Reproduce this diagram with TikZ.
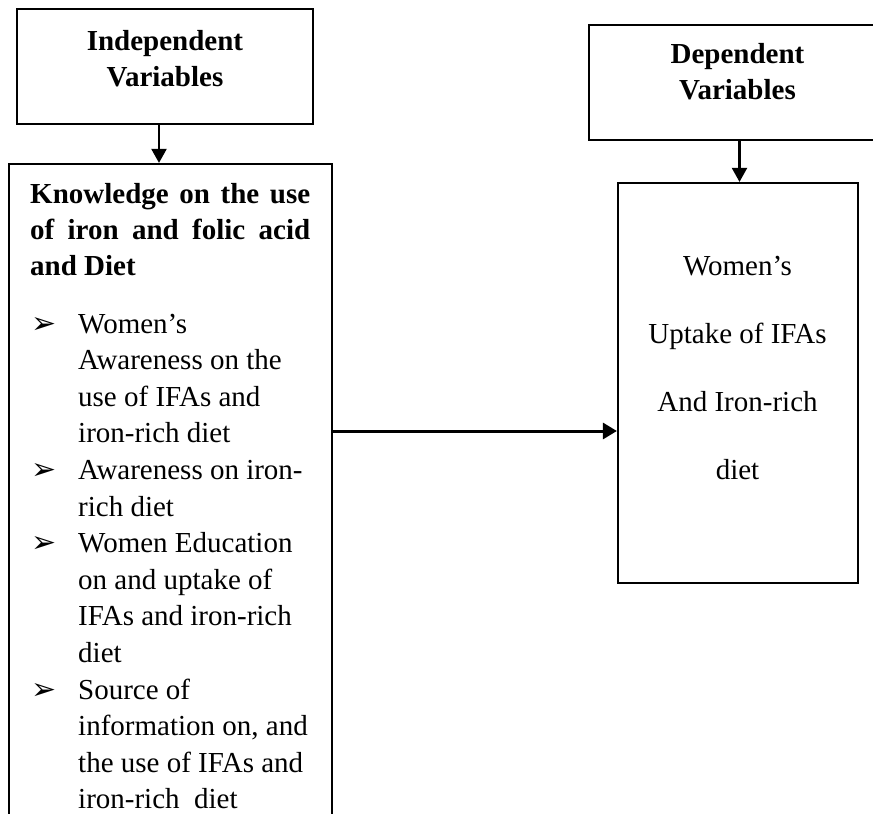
\documentclass[tikz,border=0pt]{standalone}
\usepackage{fontspec}
\setmainfont{Liberation Serif}
\newfontfamily\symfont{DejaVu Sans}
\usetikzlibrary{arrows.meta}
\begin{document}
\begin{tikzpicture}[x=1pt,y=-1pt,
  box/.style={draw, line width=2.2pt, inner sep=0pt},
  arr/.style={line width=2.2pt, -{Triangle[length=14pt,width=15pt]}},
  harr/.style={line width=3pt, -{Triangle[length=14pt,width=16pt]}},
  txt/.style={inner sep=0pt, font=\fontsize{29}{35}\selectfont},
  btxt/.style={inner sep=0pt, font=\fontsize{29}{35}\selectfont\bfseries},
  bul/.style={inner sep=0pt, font=\symfont\fontsize{30}{30}\selectfont},
]
\useasboundingbox (0,0) rectangle (873,814);
% boxes
\node[box, minimum width=296pt, minimum height=115pt] (indep) at (165,66.5) {};
\node[box, minimum width=323pt, minimum height=666pt] (know) at (170.5,497) {};
\node[box, minimum width=301pt, minimum height=115pt] (dep) at (739.5,82.5) {};
\node[box, minimum width=240pt, minimum height=400pt] (out) at (738,383) {};
% titles
\node[btxt, anchor=base] (indept1) at (165,50) {Independent};
\node[btxt, anchor=base] (indept2) at (165,86) {Variables};
\node[btxt, anchor=base] (dept1) at (737.5,63) {Dependent};
\node[btxt, anchor=base] (dept2) at (737.5,99) {Variables};
% heading
\node[btxt, anchor=base west] (head1) at (30,203) {\makebox[280pt][s]{Knowledge on the use}};
\node[btxt, anchor=base west] (head2) at (30,239) {\makebox[280pt][s]{of iron and folic acid}};
\node[btxt, anchor=base west] (head3) at (30,275) {and Diet};
% bullets
\foreach \yy [count=\i] in {333,479.4,552.6,699}
  \node[bul, anchor=base west] (b\i) at (31,\yy) {➢};
% items
\foreach \t [count=\i] in {Women’s,Awareness on the,use of IFAs and,iron-rich diet,Awareness on iron-,rich diet,Women Education,on and uptake of,IFAs and iron-rich,diet,Source of,{information on, and},the use of IFAs and,iron-rich\ \ diet}
  \node[txt, anchor=base west] (item\i) at (78,{333+36.6*(\i-1)}) {\t};
% outcome text
\foreach \t [count=\i] in {Women’s,Uptake of IFAs,And Iron-rich,diet}
  \node[txt, anchor=base] (outt\i) at (737.5,{275+68.3*(\i-1)}) {\t};
% connectors
\coordinate (h) at (0,431);
\draw[arr] ([xshift=-6pt]indep.south) -- ([xshift=-6pt]indep.south |- know.north);
\draw[arr] (dep.south) -- (dep.south |- out.north);
\draw[harr] (know.east |- h) -- (out.west |- h);
\end{tikzpicture}
\end{document}
